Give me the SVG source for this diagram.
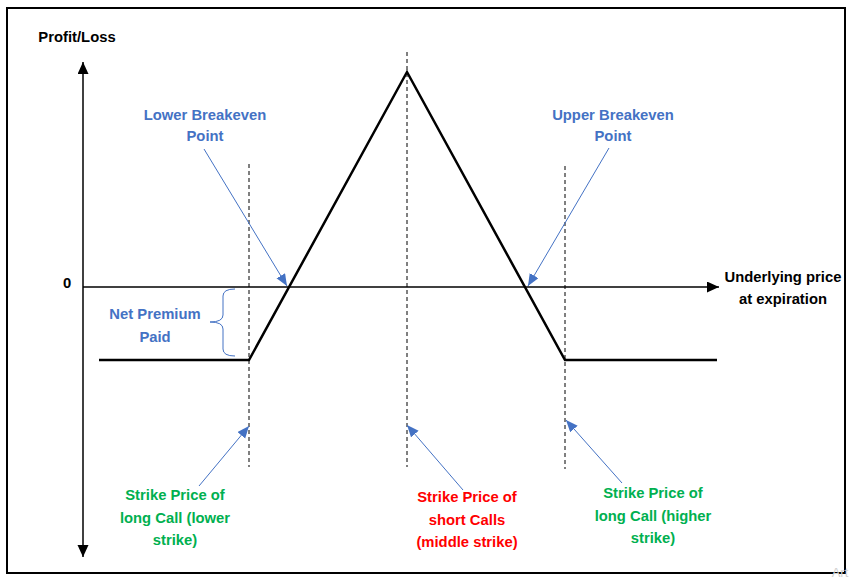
<svg xmlns="http://www.w3.org/2000/svg" width="856" height="579" viewBox="0 0 856 579">
<style>
text{font-family:"Liberation Sans",Arial,sans-serif;font-weight:bold;font-size:14.8px;text-anchor:middle}
.k{fill:#000}
.b{fill:#4472C4}
.g{fill:#00B050}
.r{fill:#FF0000}
.dash{stroke:#000;stroke-width:1;stroke-dasharray:4 3;fill:none}
.ax{stroke:#000;stroke-width:1.5;fill:none}
.pay{stroke:#000;stroke-width:2.5;fill:none;stroke-linejoin:miter}
.ba{stroke:#4472C4;stroke-width:1;fill:none;marker-end:url(#bh)}
</style>
<defs>
<marker id="bh" markerUnits="userSpaceOnUse" markerWidth="14" markerHeight="12" refX="12" refY="5" orient="auto">
<path d="M0,0 L12,5 L0,10 Z" fill="#4472C4"/>
</marker>
<marker id="kh" markerUnits="userSpaceOnUse" markerWidth="14" markerHeight="12" refX="12" refY="5.5" orient="auto">
<path d="M0,0 L12,5.5 L0,11 Z" fill="#000"/>
</marker>
</defs>
<rect x="7" y="8" width="838" height="565" fill="#fff" stroke="#000" stroke-width="2"/>
<g id="axes">
<line class="ax" x1="83" y1="300" x2="83" y2="62" marker-end="url(#kh)"/>
<line class="ax" x1="83" y1="300" x2="83" y2="557" marker-end="url(#kh)"/>
<line class="ax" x1="83" y1="287" x2="719" y2="287" marker-end="url(#kh)"/>
</g>
<g id="strike-lines">
<line class="dash" x1="249" y1="164" x2="249" y2="467"/>
<line class="dash" x1="407" y1="52" x2="407" y2="467"/>
<line class="dash" x1="565" y1="166" x2="565" y2="469"/>
</g>
<g id="payoff">
<polyline class="pay" points="99,360 249,360 407,72 565,360 717,360"/>
</g>
<g id="connectors">
<line class="ba" x1="204" y1="149" x2="287" y2="286"/>
<line class="ba" x1="609" y1="148" x2="528" y2="286"/>
<line class="ba" x1="199" y1="486" x2="249" y2="426"/>
<line class="ba" x1="463" y1="490" x2="407" y2="425"/>
<line class="ba" x1="622" y1="483" x2="566" y2="420"/>
<path d="M235,289 Q223,289 223,296 L223,315 Q223,322 210,322 Q223,322 223,329 L223,349 Q223,356 235,356" stroke="#4472C4" stroke-width="1" fill="none"/>
</g>
<g id="axis-labels">
<text class="k" x="77" y="42">Profit/Loss</text>
<text class="k" x="67" y="288">0</text>
<text class="k" x="783" y="282">Underlying price</text>
<text class="k" x="783" y="304">at expiration</text>
</g>
<g id="lower-breakeven">
<text class="b" x="205" y="120">Lower Breakeven</text>
<text class="b" x="205" y="141">Point</text>
</g>
<g id="upper-breakeven">
<text class="b" x="613" y="120">Upper Breakeven</text>
<text class="b" x="613" y="141">Point</text>
</g>
<g id="net-premium">
<text class="b" x="155" y="319">Net Premium</text>
<text class="b" x="155" y="342">Paid</text>
</g>
<g id="lower-strike">
<text class="g" x="175" y="500">Strike Price of</text>
<text class="g" x="175" y="523">long Call (lower</text>
<text class="g" x="175" y="545">strike)</text>
</g>
<g id="middle-strike">
<text class="r" x="467" y="502">Strike Price of</text>
<text class="r" x="467" y="525">short Calls</text>
<text class="r" x="467" y="547">(middle strike)</text>
</g>
<g id="higher-strike">
<text class="g" x="653" y="498">Strike Price of</text>
<text class="g" x="653" y="521">long Call (higher</text>
<text class="g" x="653" y="543">strike)</text>
</g>
<text x="840" y="577" style="fill:#d0d0d0;font-weight:normal;font-size:13px">Art</text>
</svg>
